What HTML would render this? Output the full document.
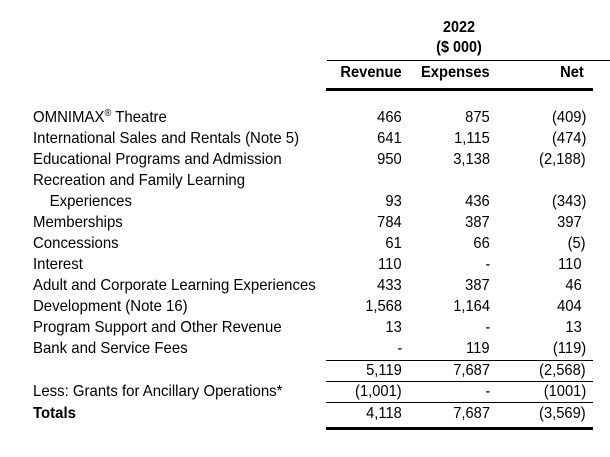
<!DOCTYPE html>
<html><head><style>
body{margin:0;width:610px;height:457px;background:#fff;position:relative;overflow:hidden;font-family:"Liberation Sans",Arial,sans-serif;font-size:16px;color:#000}
.t{position:absolute;white-space:nowrap;line-height:16px}
.l{transform:scaleX(0.935);transform-origin:left center}
.r{transform:scaleX(0.92);transform-origin:right center}
.c{transform:translateX(-50%) scaleX(0.9)}
.b{font-weight:bold}
.ln{position:absolute;background:#000}
sup{font-size:10px;line-height:0;vertical-align:6px}
</style></head><body>
<div class="t c b" style="left:459px;top:20px">2022</div>
<div class="t c b" style="left:459px;top:40px">($ 000)</div>
<div class="ln" style="left:327px;top:60px;width:283px;height:1px"></div>
<div class="t r b" style="right:208px;top:65px">Revenue</div>
<div class="t r b" style="right:120px;top:65px">Expenses</div>
<div class="t r b" style="right:26px;top:65px">Net</div>
<div class="ln" style="left:326px;top:88px;width:267px;height:3px"></div>

<div id="rows"></div>
<script>
var rows=[
["OMNIMAX<sup>®</sup> Theatre","466","875","(409)",110],
["International Sales and Rentals (Note 5)","641","1,115","(474)",131],
["Educational Programs and Admission","950","3,138","(2,188)",152],
["Recreation and Family Learning","","","",173],
["&nbsp;&nbsp;&nbsp;&nbsp;Experiences","93","436","(343)",194],
["Memberships","784","387","397",215],
["Concessions","61","66","(5)",236],
["Interest","110","-","110",257],
["Adult and Corporate Learning Experiences","433","387","46",278],
["Development (Note 16)","1,568","1,164","404",299],
["Program Support and Other Revenue","13","-","13",320],
["Bank and Service Fees","-","119","(119)",341],
["","5,119","7,687","(2,568)",363],
["Less: Grants for Ancillary Operations*","(1,001)","-","(1001)",384],
["<b>Totals</b>","4,118","7,687","(3,569)",406]];
var h="";
rows.forEach(function(r){
 var y=r[4];
 if(r[0])h+='<div class="t l" style="left:33px;top:'+y+'px">'+r[0]+'</div>';
 if(r[1])h+='<div class="t r" style="right:208px;top:'+y+'px">'+r[1]+'</div>';
 if(r[2])h+='<div class="t r" style="right:120px;top:'+y+'px">'+r[2]+'</div>';
 if(r[3])h+='<div class="t r" style="right:'+(r[3].indexOf(')')>=0?24:28)+'px;top:'+y+'px">'+r[3]+'</div>';
});
document.getElementById('rows').innerHTML=h;
</script>
<div class="ln" style="left:326px;top:360px;width:267px;height:1px"></div>
<div class="ln" style="left:326px;top:381px;width:267px;height:1px"></div>
<div class="ln" style="left:326px;top:402px;width:267px;height:1px"></div>
<div class="ln" style="left:326px;top:427px;width:267px;height:3px"></div>
</body></html>
